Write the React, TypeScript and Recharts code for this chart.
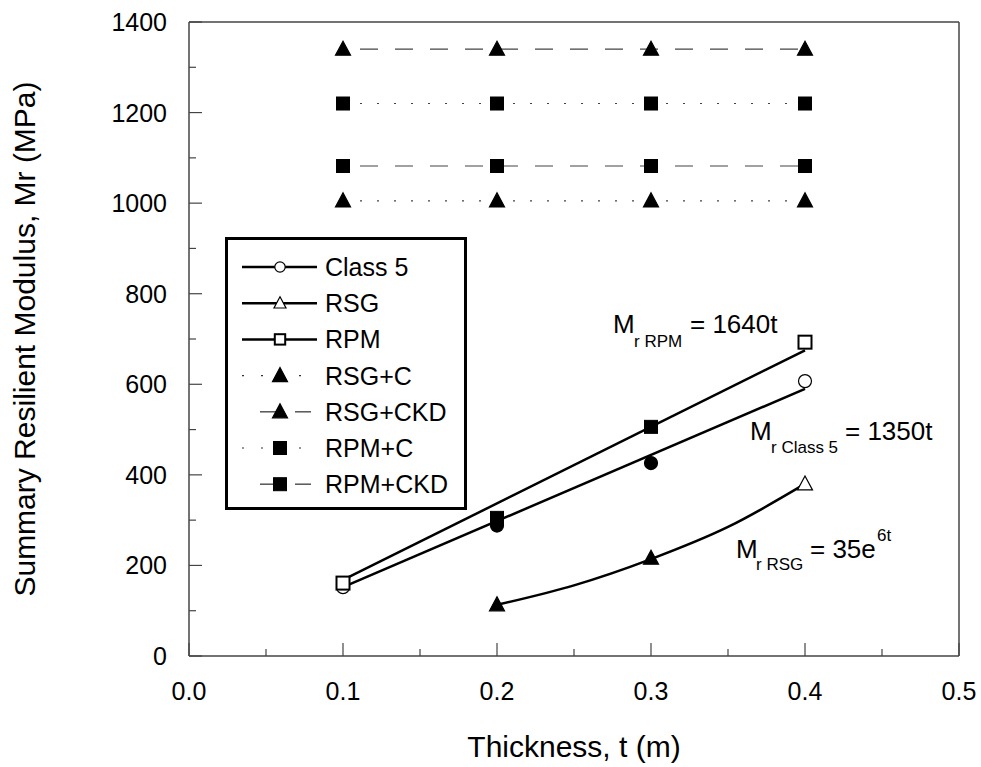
import React from "react";
import { LineChart, Line, XAxis, YAxis, Legend } from "recharts";

const FONT = "'Liberation Sans', Arial, Helvetica, sans-serif";
const AXIS = "#444";

// measured points
const THICKNESS = [0.1, 0.2, 0.3, 0.4];
const CLASS5 = [152, 288, 426, 607];
const CLASS5_FILLED = [false, true, true, false];
const RSG_T = [0.2, 0.3, 0.4];
const RSG = [113, 216, 380];
const RSG_FILLED = [true, true, false];
const RPM = [161, 305, 506, 693];
const RPM_FILLED = [false, true, true, false];
const RSG_C = [1005, 1005, 1005, 1005];
const RSG_CKD = [1340, 1340, 1340, 1340];
const RPM_C = [1220, 1220, 1220, 1220];
const RPM_CKD = [1082, 1082, 1082, 1082];

// regression curves
const FIT_T = [0.1, 0.4];
const CLASS5_FIT = [152, 590];
const RPM_FIT = [168, 675];
const RSG_FIT_T = [0.2, 0.25, 0.3, 0.35, 0.4];
const RSG_FIT = [113, 156, 214, 285, 380];

const SERIES_NAMES = ["Class 5", "RSG", "RPM", "RSG+C", "RSG+CKD", "RPM+C", "RPM+CKD"];

const X_TICKS = [0, 0.05, 0.1, 0.15, 0.2, 0.25, 0.3, 0.35, 0.4, 0.45, 0.5];
const Y_TICKS = [0, 100, 200, 300, 400, 500, 600, 700, 800, 900, 1000, 1100, 1200, 1300, 1400];

const X_TITLE = "Thickness, t (m)";
const Y_TITLE = "Summary Resilient Modulus, Mr (MPa)";

type Shape = "circle" | "triangle" | "square";

const zip = (xs: number[], ys: number[]) => xs.map((t, i) => ({ t, v: ys[i] }));

function Marker({ shape, cx, cy, filled, k = 1 }: { shape: Shape; cx: number; cy: number; filled: boolean; k?: number }) {
  const fill = filled ? "#000" : "#fff";
  if (shape === "circle") {
    return <circle cx={cx} cy={cy} r={6.5 * k} fill={fill} stroke="#000" strokeWidth={1.2} />;
  }
  if (shape === "square") {
    const h = 6.5 * k;
    return <rect x={cx - h} y={cy - h} width={2 * h} height={2 * h} fill={fill} stroke="#000" strokeWidth={filled ? 1 : 2} />;
  }
  const w = 7.5 * k;
  return (
    <polygon
      points={`${cx},${cy - 8 * k} ${cx - w},${cy + 6 * k} ${cx + w},${cy + 6 * k}`}
      fill={fill}
      stroke="#000"
      strokeWidth={1.2}
    />
  );
}

const dotFor = (shape: Shape, filled: boolean[] | null) => (p: any) => (
  <Marker key={`${shape}-${p.index}`} shape={shape} cx={p.cx} cy={p.cy} filled={filled ? filled[p.index] : true} />
);

const isMajorX = (v: number) => Math.round(v * 100) % 10 === 0;

const BottomTick = ({ x, y, payload }: any) => {
  const major = isMajorX(payload.value);
  return (
    <g>
      <line x1={x} y1={y} x2={x} y2={y - (major ? 13 : 7)} stroke={AXIS} strokeWidth={1.2} />
      {major && (
        <text x={x} y={y + 44} textAnchor="middle" fontSize={25} fontFamily={FONT} fill="#000">
          {payload.value.toFixed(1)}
        </text>
      )}
    </g>
  );
};

const TopTick = ({ x, y, payload }: any) => (
  <line x1={x} y1={y} x2={x} y2={y + (isMajorX(payload.value) ? 13 : 7)} stroke={AXIS} strokeWidth={1.2} />
);

const LeftTick = ({ x, y, payload }: any) => {
  const major = payload.value % 200 === 0;
  return (
    <g>
      <line x1={x} y1={y} x2={x + (major ? 13 : 7)} y2={y} stroke={AXIS} strokeWidth={1.2} />
      {major && (
        <text x={x - 22} y={y} dy="0.36em" textAnchor="end" fontSize={25} fontFamily={FONT} fill="#000">
          {payload.value}
        </text>
      )}
    </g>
  );
};

const RightTick = ({ x, y, payload }: any) => (
  <line x1={x} y1={y} x2={x - (payload.value % 200 === 0 ? 13 : 7)} y2={y} stroke={AXIS} strokeWidth={1.2} />
);

// legend look for each series, same order as SERIES_NAMES
const LEGEND_LOOK: { shape: Shape; filled: boolean; line: "solid" | "dot" | "dash" }[] = [
  { shape: "circle", filled: false, line: "solid" },
  { shape: "triangle", filled: false, line: "solid" },
  { shape: "square", filled: false, line: "solid" },
  { shape: "triangle", filled: true, line: "dot" },
  { shape: "triangle", filled: true, line: "dash" },
  { shape: "square", filled: true, line: "dot" },
  { shape: "square", filled: true, line: "dash" },
];

function LegendBox() {
  return (
    <svg width={242} height={273} style={{ display: "block" }}>
      <rect x={1.5} y={1.5} width={239} height={270} fill="#fff" stroke="#000" strokeWidth={3} />
      {SERIES_NAMES.map((name, i) => {
        const look = LEGEND_LOOK[i];
        const y = 30 + i * 36.2;
        return (
          <g key={name}>
            {look.line === "solid" && <line x1={17} y1={y} x2={92} y2={y} stroke="#000" strokeWidth={2.5} />}
            {look.line === "dot" && (
              <line x1={17} y1={y} x2={92} y2={y} stroke="#333" strokeWidth={1.2} strokeDasharray="2 17" />
            )}
            {look.line === "dash" && (
              <g stroke="#555" strokeWidth={1.5}>
                <line x1={35} y1={y} x2={55} y2={y} />
                <line x1={70} y1={y} x2={86} y2={y} />
              </g>
            )}
            <Marker shape={look.shape} cx={55} cy={y} filled={look.filled} k={look.filled ? 1 : 0.8} />
            <text x={100} y={y} dy="0.36em" fontSize={25} fontFamily={FONT} fill="#000">
              {name}
            </text>
          </g>
        );
      })}
    </svg>
  );
}

function Overlay() {
  const big = { fontSize: 26, fontFamily: FONT, fill: "#000" };
  const small = { fontSize: 17, fontFamily: FONT, fill: "#000" };
  return (
    <svg width={981} height={767} style={{ position: "absolute", left: 0, top: 0, pointerEvents: "none" }}>
      <text x={574} y={757} textAnchor="middle" fontSize={30} fontFamily={FONT} fill="#000">
        {X_TITLE}
      </text>
      <text transform="translate(35,339) rotate(-90)" textAnchor="middle" fontSize={30} fontFamily={FONT} fill="#000">
        {Y_TITLE}
      </text>

      <text x={613} y={333} {...big}>M</text>
      <text x={634} y={347} {...small}>r RPM</text>
      <text x={690} y={333} {...big}>= 1640t</text>

      <text x={750} y={440} {...big}>M</text>
      <text x={771} y={453} {...small}>r Class 5</text>
      <text x={845} y={440} {...big}>= 1350t</text>

      <text x={736} y={558} {...big}>M</text>
      <text x={756} y={570} {...small}>r RSG</text>
      <text x={810} y={558} {...big}>= 35e</text>
      <text x={877} y={541} {...small}>6t</text>
    </svg>
  );
}

export default function App() {
  const fitLine = { stroke: "#000", strokeWidth: 2.5, dot: false, isAnimationActive: false, legendType: "none" as const };
  const markOnly = { stroke: "none", isAnimationActive: false };
  return (
    <div style={{ position: "fixed", left: 0, top: 0, width: 981, height: 767, background: "#fff" }}>
      <LineChart width={981} height={767} margin={{ top: 21, right: 21, left: 109, bottom: 61 }}>
        <XAxis
          dataKey="t"
          type="number"
          domain={[0, 0.5]}
          ticks={X_TICKS}
          interval={0}
          tickSize={0}
          tickMargin={0}
          tick={BottomTick}
          height={50}
          axisLine={{ stroke: AXIS, strokeWidth: 1.5 }}
        />
        <XAxis
          xAxisId="top"
          orientation="top"
          type="number"
          domain={[0, 0.5]}
          ticks={X_TICKS}
          interval={0}
          tickSize={0}
          tickMargin={0}
          tick={TopTick}
          height={1}
          axisLine={{ stroke: AXIS, strokeWidth: 1.5 }}
        />
        <YAxis
          type="number"
          domain={[0, 1400]}
          ticks={Y_TICKS}
          interval={0}
          tickSize={0}
          tickMargin={0}
          tick={LeftTick}
          width={80}
          axisLine={{ stroke: AXIS, strokeWidth: 1.5 }}
        />
        <YAxis
          yAxisId="right"
          orientation="right"
          type="number"
          domain={[0, 1400]}
          ticks={Y_TICKS}
          interval={0}
          tickSize={0}
          tickMargin={0}
          tick={RightTick}
          width={1}
          axisLine={{ stroke: AXIS, strokeWidth: 1.5 }}
        />

        <Line data={zip(FIT_T, RPM_FIT)} dataKey="v" type="linear" {...fitLine} />
        <Line data={zip(FIT_T, CLASS5_FIT)} dataKey="v" type="linear" {...fitLine} />
        <Line data={zip(RSG_FIT_T, RSG_FIT)} dataKey="v" type="monotone" {...fitLine} />

        <Line
          data={zip(THICKNESS, RSG_CKD)}
          dataKey="v"
          stroke="#444"
          strokeWidth={1.2}
          strokeDasharray="18 17"
          strokeDashoffset={18}
          dot={dotFor("triangle", null)}
          isAnimationActive={false}
        />
        <Line
          data={zip(THICKNESS, RPM_C)}
          dataKey="v"
          stroke="#444"
          strokeWidth={1.2}
          strokeDasharray="2 15"
          dot={dotFor("square", null)}
          isAnimationActive={false}
        />
        <Line
          data={zip(THICKNESS, RPM_CKD)}
          dataKey="v"
          stroke="#444"
          strokeWidth={1.2}
          strokeDasharray="18 17"
          strokeDashoffset={18}
          dot={dotFor("square", null)}
          isAnimationActive={false}
        />
        <Line
          data={zip(THICKNESS, RSG_C)}
          dataKey="v"
          stroke="#444"
          strokeWidth={1.2}
          strokeDasharray="2 15"
          dot={dotFor("triangle", null)}
          isAnimationActive={false}
        />

        <Line data={zip(THICKNESS, CLASS5)} dataKey="v" {...markOnly} dot={dotFor("circle", CLASS5_FILLED)} />
        <Line data={zip(THICKNESS, RPM)} dataKey="v" {...markOnly} dot={dotFor("square", RPM_FILLED)} />
        <Line data={zip(RSG_T, RSG)} dataKey="v" {...markOnly} dot={dotFor("triangle", RSG_FILLED)} />

        <Legend
          layout="vertical"
          align="center"
          verticalAlign="middle"
          wrapperStyle={{ left: 225, top: 237, width: 242, height: 273 }}
          content={() => <LegendBox />}
        />
      </LineChart>
      <Overlay />
    </div>
  );
}
